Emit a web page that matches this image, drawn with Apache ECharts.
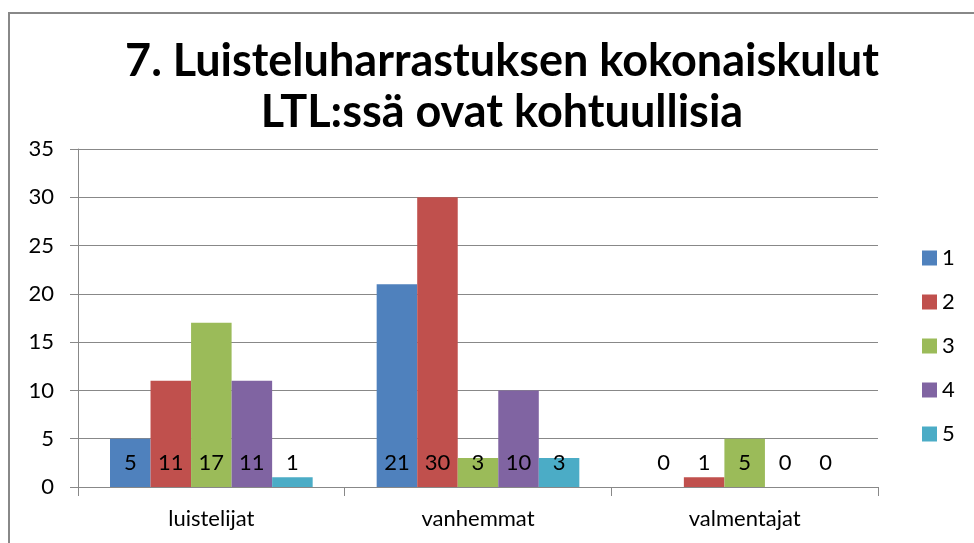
<!DOCTYPE html>
<html>
<head>
<meta charset="utf-8">
<script src="https://cdn.jsdelivr.net/npm/echarts@6/dist/echarts.min.js"></script>
<style>
  html, body { margin: 0; padding: 0; background: #fff; }
  #main { width: 974px; height: 543px; }
</style>
</head>
<body>
<div id="main"></div>
<script>
// kategoriat ja sarjat
var categories = ['luistelijat', 'vanhemmat', 'valmentajat'];
var seriesNames = ['1', '2', '3', '4', '5'];
var values1 = [5, 21, 0];
var values2 = [11, 30, 1];
var values3 = [17, 3, 5];
var values4 = [11, 10, 0];
var values5 = [1, 3, 0];
var yTicks = [0, 5, 10, 15, 20, 25, 30, 35];

var colors = ['#4F81BD', '#C0504D', '#9BBB59', '#8064A2', '#4BACC6'];
var allValues = [values1, values2, values3, values4, values5];
var font = 'Lato, "Open Sans", sans-serif';

var chart = echarts.init(document.getElementById('main'));

var series = allValues.map(function (vals, i) {
  return {
    name: seriesNames[i],
    type: 'bar',
    data: vals,
    barGap: '0%',
    barCategoryGap: '24%',
    itemStyle: { color: colors[i] },
    label: {
      show: true,
      position: 'insideBottom',
      distance: 13,
      color: '#000',
      fontSize: 22,
      fontFamily: font
    }
  };
});

chart.setOption({
  animation: false,
  color: colors,
  title: {
    text: '7. Luisteluharrastuksen kokonaiskulut\nLTL:ssä ovat kohtuullisia',
    left: 497,
    textAlign: 'center',
    top: 31,
    textStyle: {
      fontFamily: font,
      fontWeight: 'bold',
      fontSize: 45,
      lineHeight: 51,
      color: '#000'
    }
  },
  legend: {
    orient: 'vertical',
    left: 917,
    top: 242,
    itemWidth: 15,
    itemHeight: 15,
    itemGap: 22,
    icon: 'rect',
    textStyle: { fontSize: 22, fontFamily: font, color: '#000' },
    data: seriesNames
  },
  grid: { left: 78, right: 96, top: 149, bottom: 56 },
  xAxis: {
    type: 'category',
    data: categories,
    axisLine: { lineStyle: { color: '#888' } },
    axisTick: { show: true, length: 9, lineStyle: { color: '#888' } },
    axisLabel: { fontSize: 22, fontFamily: font, color: '#000', margin: 21 }
  },
  yAxis: {
    type: 'value',
    min: yTicks[0],
    max: yTicks[yTicks.length - 1],
    interval: 5,
    axisLine: { show: true, lineStyle: { color: '#888' } },
    axisTick: { show: true, length: 8, lineStyle: { color: '#888' } },
    splitLine: { lineStyle: { color: '#888' } },
    axisLabel: { fontSize: 22, fontFamily: font, color: '#000', margin: 24 }
  },
  graphic: [{
    type: 'rect',
    shape: { x: 9, y: 13, width: 1000, height: 600 },
    style: { fill: 'none', stroke: '#888', lineWidth: 2 },
    silent: true
  }],
  series: series
});
</script>
</body>
</html>
